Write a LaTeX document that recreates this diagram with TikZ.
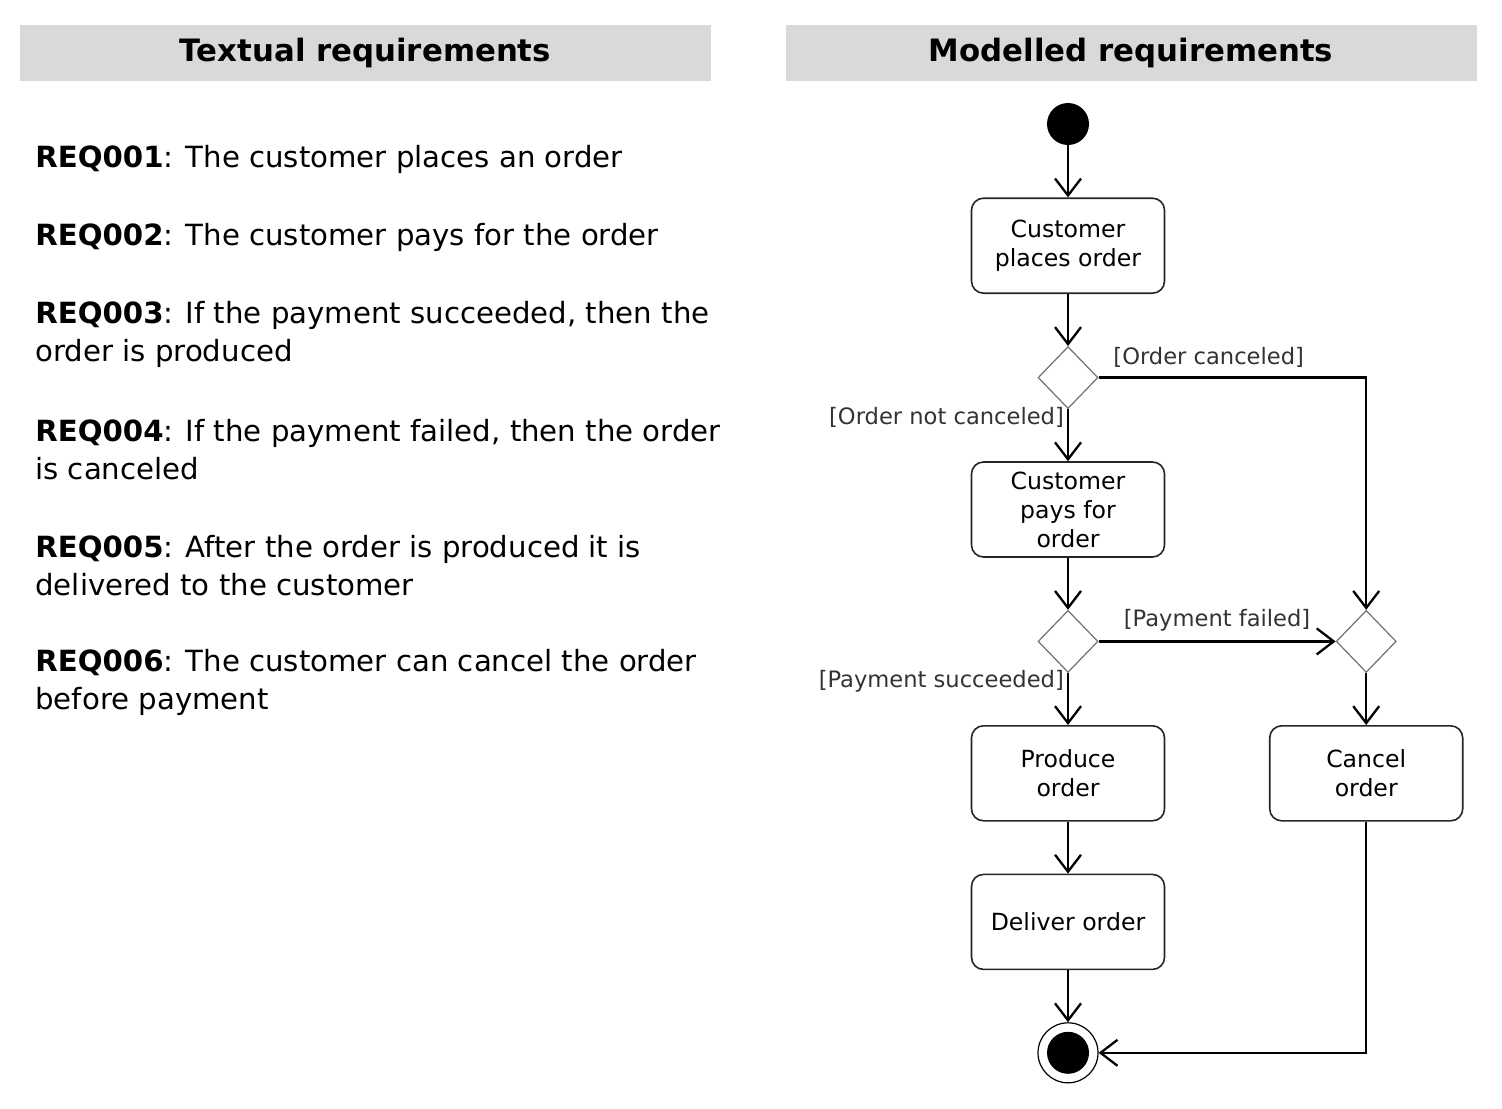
\documentclass[tikz,border=0pt]{standalone}
\usepackage{fontspec}
\setmainfont{DejaVu Sans}
\usetikzlibrary{arrows.meta,positioning,shapes.geometric}
\definecolor{headgray}{HTML}{D9D9D9}
\definecolor{diagray}{HTML}{707070}
\definecolor{labelgray}{HTML}{333333}

\begin{document}
\begin{tikzpicture}[x=0.5pt,y=-0.5pt,node distance=26pt,>={Straight Barb[length=8.5pt,width=13pt]},
  header/.style={fill=headgray,minimum width=345.5pt,minimum height=28pt,inner sep=0,font=\bfseries\fontsize{15.4}{18}\selectfont},
  req/.style={anchor=west,align=left,inner sep=0,font=\fontsize{14.6}{19}\selectfont},
  action/.style={draw=black!85,line width=0.8pt,rounded corners=6pt,minimum width=96.5pt,minimum height=47.5pt,inner sep=1pt,align=center,font=\fontsize{11.8}{14.5}\selectfont},
  decision/.style={diamond,draw=diagray,line width=0.6pt,minimum width=30pt,minimum height=31pt,inner sep=0},
  guard/.style={font=\fontsize{11.3}{13}\selectfont,text=labelgray,inner sep=1.5pt},
  flow/.style={->,line width=1.15pt}]
\useasboundingbox (0,0) rectangle (1502,1108);
% textual side
\node[header] (texthead) at (365.5,53) {Textual requirements};
\node[req] (req1) at (35,159) {\textbf{REQ001}: The customer places an order};
\node[req] (req2) at (35,237) {\textbf{REQ002}: The customer pays for the order};
\node[req] (req3) at (35,334) {\textbf{REQ003}: If the payment succeeded, then the\\order is produced};
\node[req] (req4) at (35,450) {\textbf{REQ004}: If the payment failed, then the order\\is canceled};
\node[req] (req5) at (35,566) {\textbf{REQ005}: After the order is produced it is\\delivered to the customer};
\node[req] (req6) at (35,682) {\textbf{REQ006}: The customer can cancel the order\\before payment};
% modelled side
\node[header] (modelhead) at (1131,53) {Modelled requirements};
\node[circle,fill=black,minimum size=21pt,inner sep=0] (start) at (1068,124) {};
\node[action,below=of start] (place) {Customer\\places order};
\node[decision,below=of place] (cancelq) {};
\node[action,below=of cancelq] (pay) {Customer\\pays for\\order};
\node[decision,below=of pay] (payq) {};
\node[decision,right=118.5pt of payq] (merge) {};
\node[action,below=of payq] (produce) {Produce\\order};
\node[action,below=of merge] (cancel) {Cancel\\order};
\node[action,below=of produce] (deliver) {Deliver order};
\node[circle,draw,line width=0.6pt,minimum size=30pt,inner sep=0,below=of deliver,
  path picture={\fill (path picture bounding box.center) circle (10.5pt);}] (stop) {};
\draw[flow] (start)--(place);
\draw[flow] (place)--(cancelq);
\draw[flow] (cancelq)--node[guard,pos=0.16,left]{[Order not canceled]}(pay);
\draw[flow] (cancelq) -| node[guard,pos=0.02,anchor=south west,yshift=3pt]{[Order canceled]}(merge);
\draw[flow] (pay)--(payq);
\draw[flow] (payq)--node[guard,above,yshift=3pt]{[Payment failed]}(merge);
\draw[flow] (payq)--node[guard,pos=0.16,left]{[Payment succeeded]}(produce);
\draw[flow] (merge)--(cancel);
\draw[flow] (produce)--(deliver);
\draw[flow] (deliver)--(stop);
\draw[flow] (cancel) |- (stop);
\end{tikzpicture}
\end{document}
